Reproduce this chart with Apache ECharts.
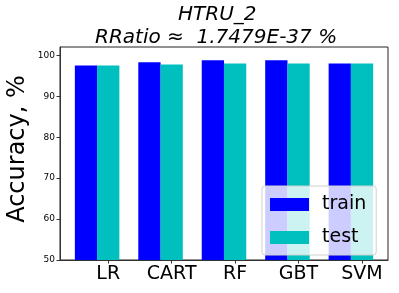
<!DOCTYPE html>
<html><head><meta charset="utf-8">
<script src="https://cdn.jsdelivr.net/npm/echarts@6/dist/echarts.min.js"></script>
<style>html,body{margin:0;padding:0;background:#fff}#c{width:399px;height:293px}</style>
</head><body><div id="c"></div>
<script>
const categories = ['LR', 'CART', 'RF', 'GBT', 'SVM'];
const trainAcc = [97.5, 98.3, 98.8, 98.8, 98.0];
const testAcc = [97.5, 97.8, 98.0, 98.0, 98.0];
const yTicks = [50, 60, 70, 80, 90, 100];
const titleLine1 = 'HTRU_2';
const titleLine2 = 'RRatio ≈  1.7479E-37 %';
const yAxisTitle = 'Accuracy, %';

const W = 0.35;
const font = 'DejaVu Sans';
const chart = echarts.init(document.getElementById('c'), null, {renderer: 'canvas'});
const tickPos = categories.map((c, i) => i + W);
chart.setOption({
  animation: false,
  textStyle: {fontFamily: font},
  grid: {left: 60, right: 11, top: 47, bottom: 33, show: true, borderColor: '#222', borderWidth: 1,
         backgroundColor: 'transparent', containLabel: false, outerBoundsMode: 'none'},
  graphic: [
    {type: 'text', left: 178, top: 5, style: {text: titleLine1, font: 'italic 20px "DejaVu Sans"', fill: '#000'}},
    {type: 'text', left: 95, top: 28, style: {text: titleLine2, font: 'italic 20px "DejaVu Sans"', fill: '#000'}},
    {type: 'text', x: 18, y: 149, rotation: Math.PI / 2,
     style: {text: yAxisTitle, font: '24px "DejaVu Sans"', fill: '#000', align: 'center', verticalAlign: 'middle'}}
  ],
  legend: {
    orient: 'vertical', left: 262, top: 186,
    itemWidth: 39, itemHeight: 13, itemGap: 14, icon: 'rect',
    padding: [9, 10, 8, 8],
    backgroundColor: 'rgba(255,255,255,0.8)', borderColor: '#d0d0d0', borderWidth: 1, borderRadius: 3,
    textStyle: {fontSize: 19, fontFamily: font, color: '#000', padding: [0, 0, 0, 8]},
    data: ['train', 'test']
  },
  xAxis: {
    type: 'value', min: -0.41, max: 4.76,
    splitLine: {show: false},
    axisLine: {show: true, onZero: false, lineStyle: {color: '#333'}},
    axisTick: {show: true, length: 3.5, inside: false, customValues: tickPos, lineStyle: {color: '#333'}},
    axisLabel: {customValues: tickPos, fontSize: 19, color: '#000', margin: 5,
      formatter: v => categories[Math.round(v - W)]}
  },
  yAxis: {
    type: 'value', min: 50, max: 102.05,
    splitLine: {show: false},
    axisLine: {show: true, onZero: false, lineStyle: {color: '#333'}},
    axisTick: {show: true, length: 3.5, customValues: yTicks, lineStyle: {color: '#333'}},
    axisLabel: {customValues: yTicks, fontSize: 9, color: '#000', margin: 5}
  },
  series: [
    {name: 'train', type: 'bar', barWidth: 22.3, barGap: '-100%', itemStyle: {color: '#0000ff'},
     data: trainAcc.map((v, i) => [i, v])},
    {name: 'test', type: 'bar', barWidth: 22.3, barGap: '-100%', itemStyle: {color: '#00bfbf'},
     data: testAcc.map((v, i) => [i + W, v])}
  ]
});
</script></body></html>
